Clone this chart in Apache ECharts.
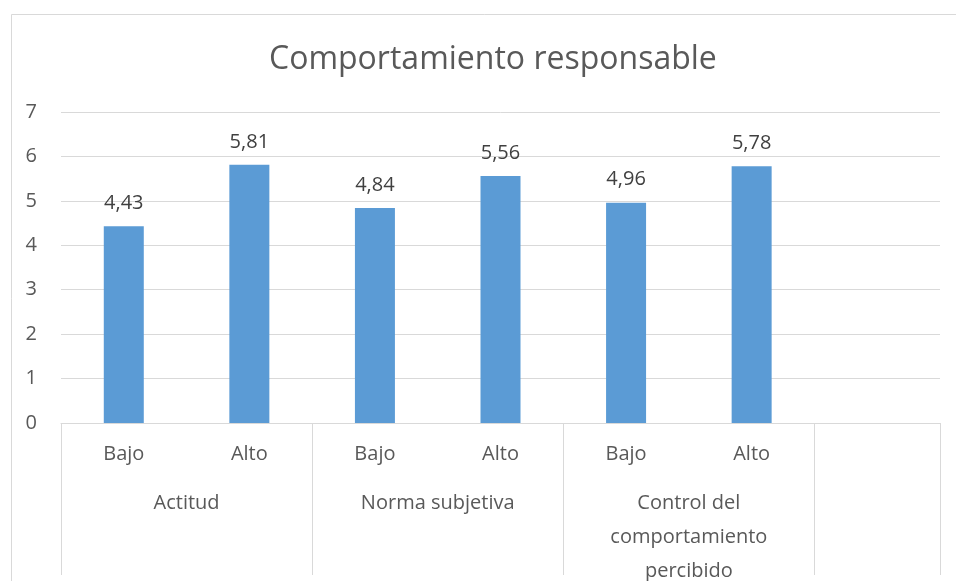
<!DOCTYPE html>
<html>
<head>
<meta charset="utf-8">
<script src="https://cdn.jsdelivr.net/npm/echarts@6/dist/echarts.min.js"></script>
<style>html,body{margin:0;padding:0;background:#fff}#c{width:956px;height:581px}</style>
</head>
<body>
<div id="c"></div>
<script>
const titleText = 'Comportamiento responsable';
const levels = ['Bajo', 'Alto', 'Bajo', 'Alto', 'Bajo', 'Alto', ''];
const values = [4.43, 5.81, 4.84, 5.56, 4.96, 5.78, null];
const groups = ['Actitud', 'Norma subjetiva', 'Control del\ncomportamiento\npercibido'];
const groupCenters = [1, 3, 5];
const groupBounds = [0, 2, 4, 6, 7];
const yTicks = [0, 1, 2, 3, 4, 5, 6, 7];

const FONT = '"Open Sans", "Noto Sans", sans-serif';
const chart = echarts.init(document.getElementById('c'), null, {renderer: 'canvas'});
chart.setOption({
  animation: false,
  backgroundColor: '#fff',
  title: {
    text: titleText, left: 264, top: 39,
    textStyle: {fontFamily: FONT, fontSize: 32, fontWeight: 'normal', color: '#595959'}
  },
  graphic: [{
    type: 'rect', left: 9, top: 12, shape: {width: 970, height: 620},
    style: {fill: 'none', stroke: '#d9d9d9', lineWidth: 1}, silent: true
  }],
  grid: {left: 61, right: 16, top: 112, bottom: 158, containLabel: false, outerBoundsMode: 'none'},
  xAxis: [{
    type: 'category', data: levels, position: 'bottom',
    axisLine: {show: true, lineStyle: {color: '#d9d9d9', width: 1}},
    axisTick: {show: false},
    axisLabel: {interval: 0, margin: 21, fontFamily: FONT, fontSize: 20, color: '#595959'}
  }, {
    type: 'value', min: 0, max: 7, position: 'bottom',
    axisLine: {show: false},
    splitLine: {show: false},
    axisTick: {show: true, customValues: groupBounds, length: 152, lineStyle: {color: '#d9d9d9', width: 1}},
    axisLabel: {
      customValues: groupCenters, margin: 63, fontFamily: FONT, fontSize: 20, color: '#595959',
      lineHeight: 34, align: 'center', verticalAlign: 'top',
      formatter: function (v) { const i = groupCenters.indexOf(Math.round(v)); return i >= 0 ? groups[i] : ''; }
    }
  }],
  yAxis: {
    type: 'value', min: yTicks[0], max: yTicks[yTicks.length - 1], interval: 1,
    axisLine: {show: false}, axisTick: {show: false},
    splitLine: {lineStyle: {color: '#d9d9d9', width: 1}},
    axisLabel: {margin: 24, fontFamily: FONT, fontSize: 20, color: '#595959'}
  },
  series: [{
    type: 'bar', xAxisIndex: 0, data: values, barWidth: 40,
    itemStyle: {color: '#5b9bd5'},
    label: {
      show: true, position: 'top', distance: 13, fontFamily: FONT, fontSize: 20, color: '#404040',
      formatter: function (p) { return p.value == null ? '' : p.value.toFixed(2).replace('.', ','); }
    }
  }]
});
</script>
</body>
</html>
